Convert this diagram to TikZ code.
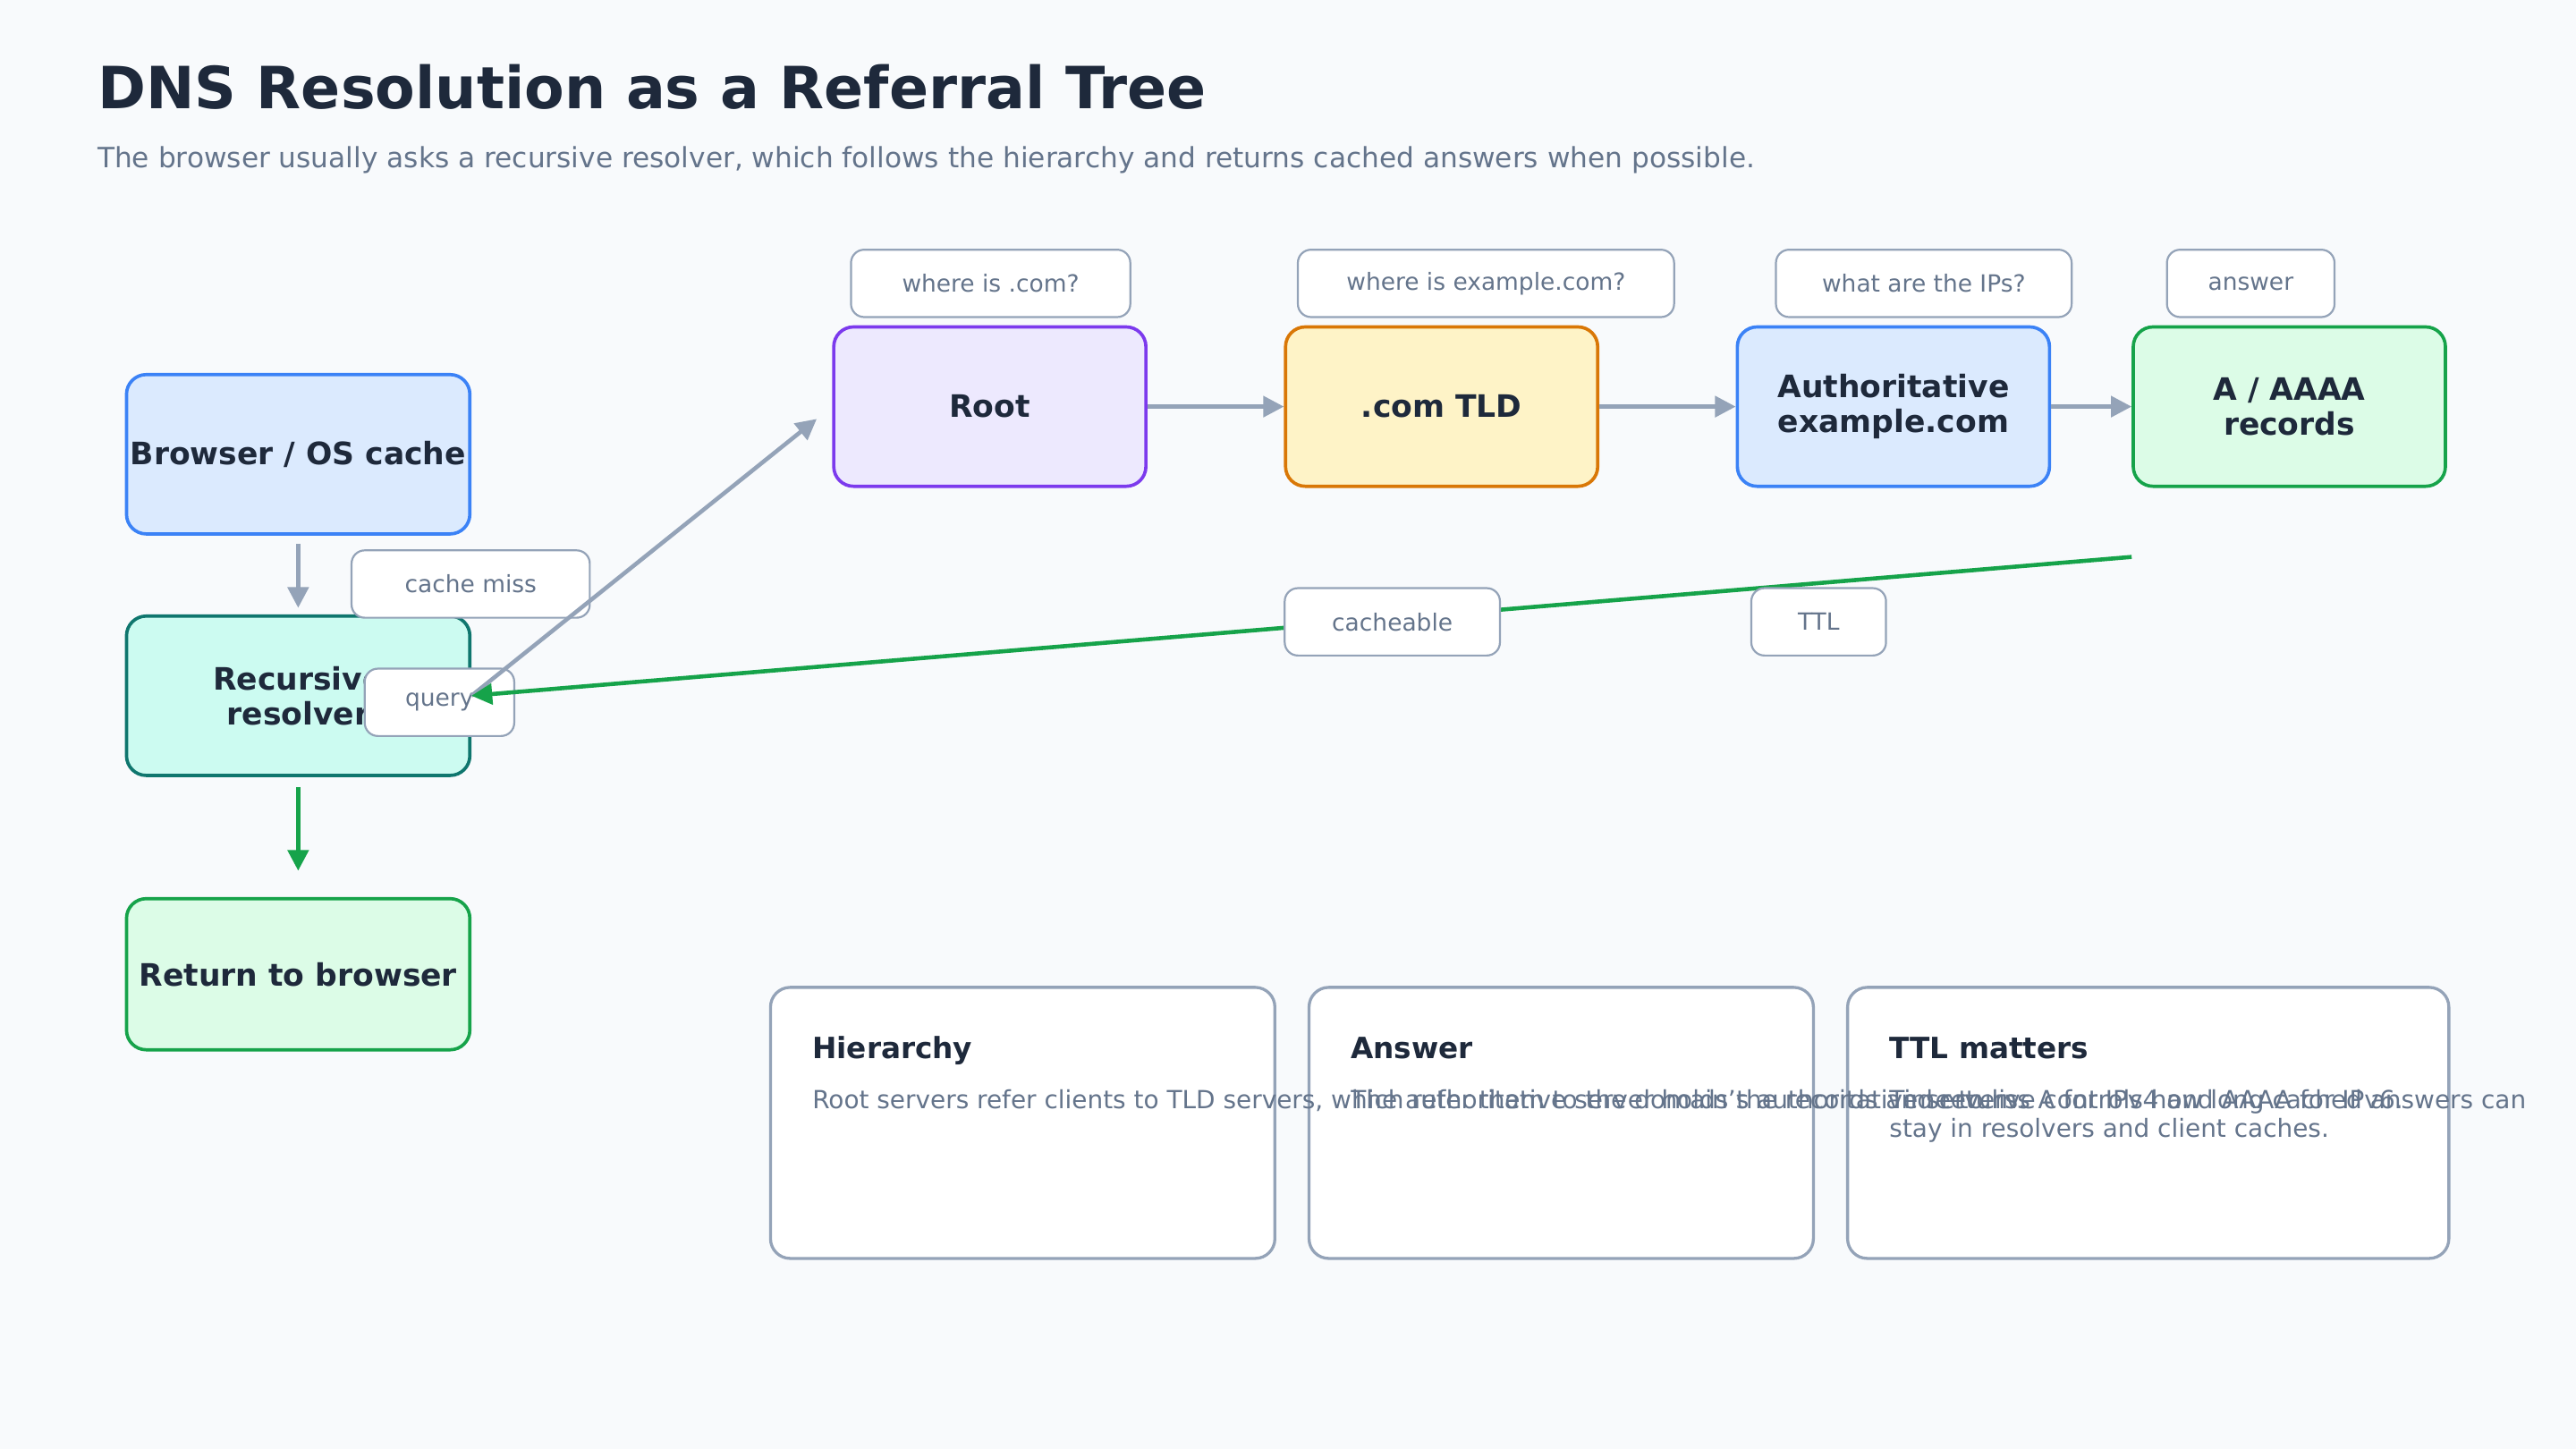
\documentclass[tikz,border=0pt]{standalone}
\usepackage{fontspec}
\setmainfont{DejaVu Sans}
\usetikzlibrary{positioning, arrows.meta}
\definecolor{pagebg}{HTML}{F8FAFC}
\definecolor{ink}{HTML}{1E293B}
\definecolor{muted}{HTML}{64748B}
\definecolor{wire}{HTML}{94A3B8}
\definecolor{blueline}{HTML}{3B82F6}
\definecolor{bluetint}{HTML}{DBEAFE}
\definecolor{tealline}{HTML}{0F766E}
\definecolor{tealtint}{HTML}{CCFBF1}
\definecolor{greenline}{HTML}{16A34A}
\definecolor{greentint}{HTML}{DCFCE7}
\definecolor{violetline}{HTML}{7C3AED}
\definecolor{violettint}{HTML}{EDE9FE}
\definecolor{amberline}{HTML}{D97706}
\definecolor{ambertint}{HTML}{FEF3C7}
\tikzset{
  server/.style={line width=1pt, rounded corners=6pt, align=center, text=ink, font=\fontsize{9.4}{10.5}\selectfont\bfseries, minimum width=95pt, minimum height=48.5pt, inner sep=1pt},
  tag/.style={draw=wire, line width=0.6pt, rounded corners=4pt, fill=white, text=muted, font=\fontsize{7.2}{8.6}\selectfont, minimum height=20.5pt, inner xsep=2pt},
  card/.style={draw=wire, line width=0.9pt, rounded corners=6pt, fill=white, minimum height=82.5pt, minimum width=153.5pt},
  cardhead/.style={anchor=base west, inner sep=0pt, text=ink, font=\fontsize{8.9}{10.5}\selectfont\bfseries},
  cardtext/.style={anchor=base west, inner sep=0pt, text=muted, font=\fontsize{7.6}{9}\selectfont},
  arrow/.style={-{Triangle[length=6.3pt, width=6.3pt]}, line width=1.25pt, draw=wire},
  okarrow/.style={-{Triangle[length=6.3pt, width=6.3pt]}, line width=1.25pt, draw=greenline},
}

\begin{document}
\begin{tikzpicture}[x=0.5pt, y=-0.5pt]
  \useasboundingbox[fill=pagebg] (0,0) rectangle (1568,882);

  % Heading
  \node[anchor=base west, inner sep=0pt, text=ink, font=\fontsize{17.7}{21}\selectfont\bfseries] (title) at (59,66)
    {DNS Resolution as a Referral Tree};
  \node[anchor=base west, inner sep=0pt, text=muted, font=\fontsize{8.5}{10}\selectfont] (subtitle) at (59,102)
    {The browser usually asks a recursive resolver, which follows the hierarchy and returns cached answers when possible.};

  % Client column (left)
  \node[server, draw=blueline, fill=bluetint, minimum width=104.5pt] (browser) at (181.5,276.5) {Browser / OS cache};
  \node[server, draw=tealline, fill=tealtint, minimum width=104.5pt, below=24pt of browser] (resolver) {Recursive\\resolver};
  \node[server, draw=greenline, fill=greentint, minimum width=104.5pt, minimum height=46pt, below=36.5pt of resolver] (giveback) {Return to browser};

  % Referral chain (top row)
  \node[server, draw=violetline, fill=violettint] (root) at (602.5,247.5) {Root};
  \node[server, draw=amberline, fill=ambertint, right=41.5pt of root] (tld) {.com TLD};
  \node[server, draw=blueline, fill=bluetint, right=41.5pt of tld] (auth) {Authoritative\\example.com};
  \node[server, draw=greenline, fill=greentint, right=24.5pt of auth] (records) {A / AAAA\\records};

  % Questions above the chain
  \node[tag, minimum width=85pt] (askroot) at (603,172.5) {where is .com?};
  \node[tag, minimum width=114.5pt] (asktld) at (904.5,172.5) {where is example.com?};
  \node[tag, minimum width=90pt] (askauth) at (1171,172.5) {what are the IPs?};
  \node[tag, minimum width=51pt] (askanswer) at (1370,172.5) {answer};

  % Notes (bottom row)
  \node[card] (hier) at (622.5,683.5) {};
  \node[card, right=9.5pt of hier] (answer) {};
  \node[card, right=9.5pt of answer, minimum width=183pt] (ttl) {};
  \node[cardhead] at ([xshift=13pt, yshift=-22pt]hier.north west) {Hierarchy};
  \node[cardhead] at ([xshift=13pt, yshift=-22pt]answer.north west) {Answer};
  \node[cardhead] at ([xshift=13pt, yshift=-22pt]ttl.north west) {TTL matters};
  \node[cardtext] at ([xshift=13pt, yshift=-37.3pt]hier.north west)
    {Root servers refer clients to TLD servers, which refer them to the domain's authoritative servers.};
  \node[cardtext] at ([xshift=13pt, yshift=-37.3pt]answer.north west)
    {The authoritative server holds the records and returns A for IPv4 and AAAA for IPv6.};
  \node[cardtext] at ([xshift=13pt, yshift=-37.3pt]ttl.north west)
    {Time to live controls how long cached answers can};
  \node[cardtext] at ([xshift=13pt, yshift=-46.2pt]ttl.north west)
    {stay in resolvers and client caches.};

  \node[tag, minimum width=72.5pt] (miss) at (286.5,355.5) {cache miss};
  \node[tag, minimum width=45.5pt] (query) at (267.5,427.5) {query};

  % Edges
  \draw[arrow, shorten <=2.5pt, shorten >=2pt] (browser) -- (resolver);
  \draw[okarrow, shorten <=3pt, shorten >=8pt] (resolver) -- (giveback);
  \draw[arrow] (root) -- (tld);
  \draw[arrow] (tld) -- (auth);
  \draw[arrow] (auth) -- (records);
  \draw[arrow, shorten >=6pt] (resolver.east) -- (root.west);
  \coordinate (cached) at ([yshift=-21pt]records.south west);
  \draw[okarrow] (cached) -- (resolver.east);

  \node[tag, minimum width=65.5pt] (cacheable) at (847.5,378.5) {cacheable};
  \node[tag, minimum width=41pt] (ttltag) at (1107,378.5) {TTL};
\end{tikzpicture}
\end{document}
